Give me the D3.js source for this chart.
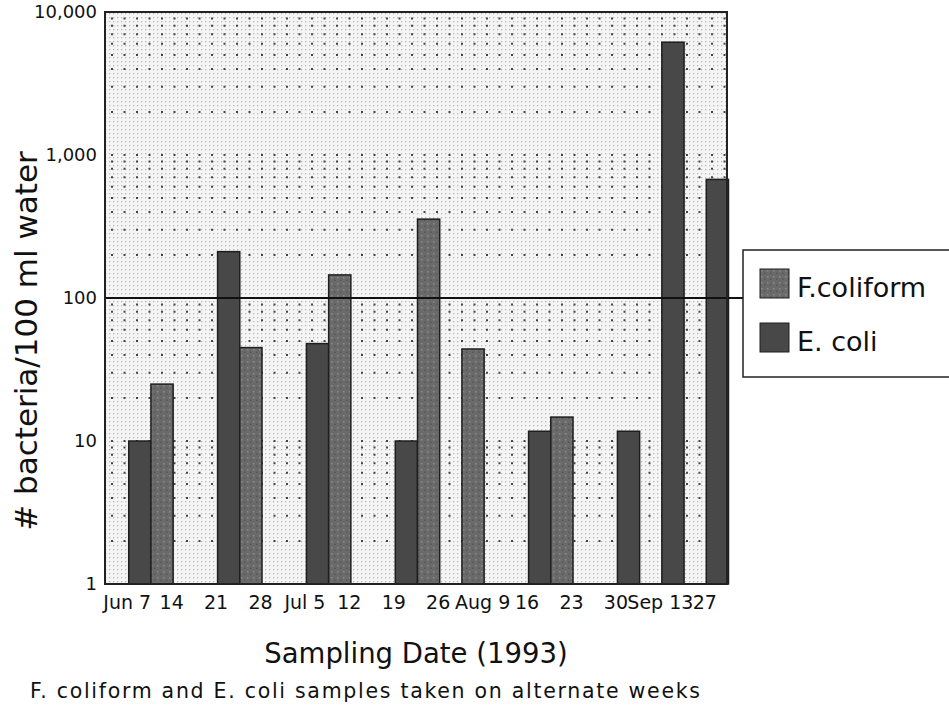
<!DOCTYPE html>
<html>
<head>
<meta charset="utf-8">
<script src="https://cdn.jsdelivr.net/npm/d3@7"></script>
<style>
  body { margin: 0; background: #fff; }
  svg { display: block; }
  text { font-family: "DejaVu Sans", sans-serif; fill: #111; }
</style>
</head>
<body>
<svg id="chart" width="949" height="708"></svg>
<script>
// sampling dates (1993), one category per date
var dates = ["Jun 7", "14", "21", "28", "Jul 5", "12", "19", "26",
             "Aug 9", "16", "23", "30", "Sep 13", "27"];
var seriesNames = ["F.coliform", "E. coli"];
// bacteria / 100 ml water (null = not sampled that week)
var fColiform = [null, 25, null, 45, null, 145, null, 356, 44, null, 14.7, null, null, null];
var eColi     = [10, null, 211, null, 48, null, 10, null, null, 11.7, null, 11.7, 6150, 675];
var yTicks = [1, 10, 100, 1000, 10000];

var width = 949;
var height = 708;
var plot = {left: 105, top: 12, right: 727, bottom: 584};

var svg = d3.select("#chart");
var defs = svg.append("defs");

//halftone-ish background for the plot area
var pat = defs.append("pattern")
    .attr("id", "halftone")
    .attr("patternUnits", "userSpaceOnUse")
    .attr("width", 4)
    .attr("height", 4);
pat.append("rect").attr("width", 4).attr("height", 4).attr("fill", "#f5f5f5");
pat.append("rect").attr("x", 1).attr("y", 1).attr("width", 1.3).attr("height", 1.3).attr("fill", "#bababa");

//speckled fill for the F.coliform bars
var fpat = defs.append("pattern")
    .attr("id", "speckle")
    .attr("patternUnits", "userSpaceOnUse")
    .attr("width", 6)
    .attr("height", 6);
fpat.append("rect").attr("width", 6).attr("height", 6).attr("fill", "#6a6a6a");
fpat.append("rect").attr("x", 1).attr("y", 1).attr("width", 1.5).attr("height", 1.5).attr("fill", "#8a8a8a");
fpat.append("rect").attr("x", 4).attr("y", 3.5).attr("width", 1.5).attr("height", 1.5).attr("fill", "#555");

var x0 = d3.scaleBand()
    .domain(dates)
    .range([plot.left, plot.right]);

var x1 = d3.scaleBand()
    .domain(seriesNames)
    .range([0, x0.bandwidth()]);

var y = d3.scaleLog()
    .domain([1, 10000])
    .range([plot.bottom, plot.top]);

var fillFor = {"F.coliform": "url(#speckle)", "E. coli": "#484848"};

svg.append("rect")
    .attr("x", plot.left)
    .attr("y", plot.top)
    .attr("width", plot.right - plot.left)
    .attr("height", plot.bottom - plot.top)
    .attr("fill", "url(#halftone)");

//dotted gridlines at every 1..9 step of each decade
var gridVals = [];
for (var p = 0; p < 4; p += 1) {
    for (var k = 1; k < 10; k += 1) {
        gridVals.push(k * Math.pow(10, p));
    }
}
svg.append("g")
    .selectAll("line")
    .data(gridVals.filter(function (d) { return d > 1 && d != 100; }))
    .enter().append("line")
    .attr("x1", plot.left + 6)
    .attr("x2", plot.right)
    .attr("y1", function (d) { return y(d); })
    .attr("y2", function (d) { return y(d); })
    .attr("stroke", "#444")
    .attr("stroke-width", 2)
    .attr("stroke-dasharray", "2,10.5");

//bars
var rows = [];
dates.forEach(function (d, i) {
    if (fColiform[i] != null) rows.push({date: d, series: "F.coliform", value: fColiform[i]});
    if (eColi[i] != null) rows.push({date: d, series: "E. coli", value: eColi[i]});
});

svg.append("g")
    .selectAll("rect")
    .data(rows)
    .enter().append("rect")
    .attr("x", function (d) { return x0(d.date) + x1(d.series) + 1.5; })
    .attr("y", function (d) { return y(d.value); })
    .attr("width", x1.bandwidth())
    .attr("height", function (d) { return y(1) - y(d.value); })
    .attr("fill", function (d) { return fillFor[d.series]; })
    .attr("stroke", "#1e1e1e")
    .attr("stroke-width", 1.5);

//reference line at 100, runs over to the legend
svg.append("line")
    .attr("x1", plot.left)
    .attr("x2", 743)
    .attr("y1", y(100))
    .attr("y2", y(100))
    .attr("stroke", "#111")
    .attr("stroke-width", 2);

//frame
svg.append("rect")
    .attr("x", plot.left)
    .attr("y", plot.top)
    .attr("width", plot.right - plot.left)
    .attr("height", plot.bottom - plot.top)
    .attr("fill", "none")
    .attr("stroke", "#222")
    .attr("stroke-width", 2);

//axes
var yAxis = svg.append("g")
    .attr("transform", "translate(" + plot.left + ",0)")
    .call(d3.axisLeft(y).tickValues(yTicks).tickFormat(d3.format(",")).tickSize(0).tickPadding(8));
yAxis.select(".domain").remove();
yAxis.selectAll("text")
    .style("font-family", "DejaVu Sans")
    .style("font-size", "18px")
    .attr("fill", "#111");

var xAxis = svg.append("g")
    .attr("transform", "translate(0," + plot.bottom + ")")
    .call(d3.axisBottom(x0).tickSize(0).tickPadding(12));
xAxis.select(".domain").remove();
xAxis.selectAll("text")
    .style("font-family", "DejaVu Sans")
    .style("font-size", "19px")
    .attr("fill", "#111");

//titles
svg.append("text")
    .attr("transform", "translate(37,341) rotate(-90)")
    .attr("text-anchor", "middle")
    .style("font-size", "31px")
    .text("# bacteria/100 ml water");

svg.append("text")
    .attr("x", 416)
    .attr("y", 663)
    .attr("text-anchor", "middle")
    .style("font-size", "27.5px")
    .text("Sampling Date (1993)");

svg.append("text")
    .attr("x", 30)
    .attr("y", 698)
    .attr("textLength", 670)
    .attr("lengthAdjust", "spacing")
    .style("font-size", "20.5px")
    .text("F. coliform and E. coli samples taken on alternate weeks");

//legend
var legend = svg.append("g");
legend.append("rect")
    .attr("x", 743)
    .attr("y", 250)
    .attr("width", 220)
    .attr("height", 127)
    .attr("fill", "#fff")
    .attr("stroke", "#222")
    .attr("stroke-width", 1.5);

var items = legend.selectAll(".item")
    .data(seriesNames)
    .enter().append("g")
    .attr("class", "item")
    .attr("transform", function (d, i) { return "translate(760," + (269 + i * 54) + ")"; });
items.append("rect")
    .attr("width", 29)
    .attr("height", 29)
    .attr("fill", function (d) { return fillFor[d]; })
    .attr("stroke", "#1e1e1e")
    .attr("stroke-width", 1);
items.append("text")
    .attr("x", 37)
    .attr("y", 28)
    .style("font-size", "27px")
    .text(function (d) { return d; });
</script>
</body>
</html>
